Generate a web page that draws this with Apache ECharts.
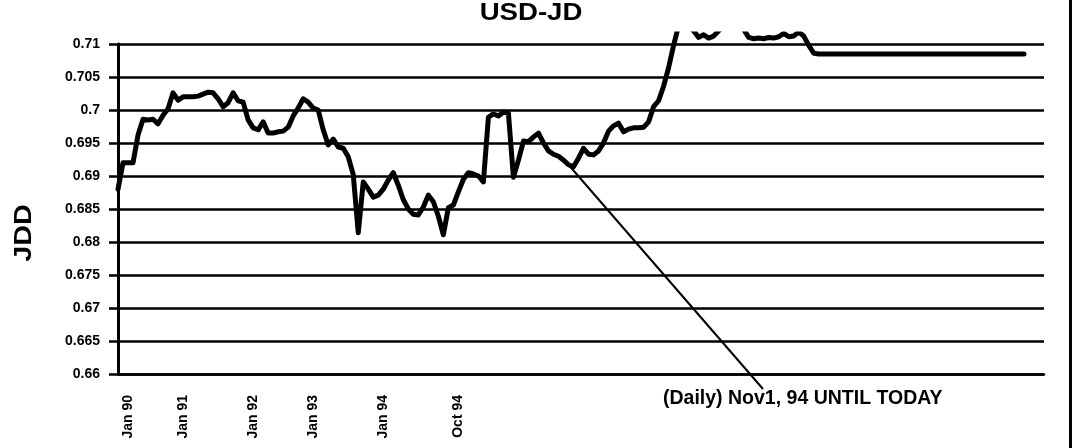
<!DOCTYPE html>
<html><head><meta charset="utf-8">
<script src="https://cdn.jsdelivr.net/npm/echarts@6/dist/echarts.min.js"></script>
<style>html,body{margin:0;padding:0;background:#fff}#c{width:1078px;height:448px}</style>
</head><body><div id="c"></div>
<script>
// ---- data ----
const chartTitle = 'USD-JD';
const yAxisName = 'JDD';
const noteText = '(Daily) Nov1, 94 UNTIL TODAY';
const yMin = 0.66, yMax = 0.71, yStep = 0.005;
const clipTop = 0.7115;             // the series is cut a little above the top gridline
const xTickLabels = ['Jan 90', 'Jan 91', 'Jan 92', 'Jan 93', 'Jan 94', 'Oct 94'];
const xTickIndex = [2, 13, 27, 39, 53, 68];
const periodCount = 186;
const noteIndex = 90;
const rate = [
  0.6880,0.6920,0.6920,0.6920,0.6962,0.6986,0.6985,0.6986,0.6979,0.6992,
  0.7002,0.7026,0.7015,0.7020,0.7020,0.7020,0.7021,0.7024,0.7027,0.7026,
  0.7017,0.7005,0.7011,0.7026,0.7014,0.7012,0.6985,0.6973,0.6970,0.6982,
  0.6965,0.6965,0.6967,0.6968,0.6974,0.6991,0.7003,0.7017,0.7012,0.7003,
  0.7000,0.6970,0.6947,0.6956,0.6944,0.6942,0.6929,0.6902,0.6814,0.6891,
  0.6880,0.6868,0.6871,0.6880,0.6894,0.6905,0.6886,0.6864,0.6850,0.6842,
  0.6841,0.6853,0.6871,0.6861,0.6839,0.6811,0.6852,0.6856,0.6876,0.6895,
  0.6905,0.6903,0.6900,0.6891,0.6989,0.6994,0.6991,0.6997,0.6995,0.6898,
  0.6924,0.6953,0.6952,0.6959,0.6965,0.6950,0.6938,0.6933,0.6930,0.6924,
  0.6917,0.6914,0.6927,0.6942,0.6933,0.6932,0.6938,0.6950,0.6968,0.6976,
  0.6980,0.6967,0.6971,0.6973,0.6973,0.6974,0.6982,0.7005,0.7014,0.7036,
  0.7064,0.7098,0.7128,0.7130,0.7127,0.7120,0.7110,0.7114,0.7109,0.7112,
  0.7120,0.7128,0.7132,0.7130,0.7127,0.7122,0.7110,0.7108,0.7109,0.7108,
  0.7110,0.7109,0.7111,0.7116,0.7111,0.7112,0.7118,0.7112,0.7098,0.7086,
  0.7085,0.7085,0.7085,0.7085,0.7085,0.7085,0.7085,0.7085,0.7085,0.7085,
  0.7085,0.7085,0.7085,0.7085,0.7085,0.7085,0.7085,0.7085,0.7085,0.7085,
  0.7085,0.7085,0.7085,0.7085,0.7085,0.7085,0.7085,0.7085,0.7085,0.7085,
  0.7085,0.7085,0.7085,0.7085,0.7085,0.7085,0.7085,0.7085,0.7085,0.7085,
  0.7085,0.7085
];

// ---- layout ----
const W = 1078, H = 448;
const G = { left: 118, right: 34, top: 44, bottom: 74 };
const plotH = H - G.top - G.bottom;
const top1 = G.top - (clipTop - yMax) / (yMax - yMin) * plotH;
const FONT = 'Liberation Sans, Arial, sans-serif';

const categories = [];
for (let i = 0; i < periodCount; i++) categories.push(String(i));
const labelMap = {};
xTickIndex.forEach((idx, k) => { labelMap[String(idx)] = xTickLabels[k]; });

const chart = echarts.init(document.getElementById('c'), null, { renderer: 'canvas' });
const option = {
  animation: false,
  backgroundColor: '#fff',
  grid: [
    { left: G.left, right: G.right, top: G.top, bottom: G.bottom },
    { left: G.left, right: G.right, top: top1, bottom: G.bottom }
  ],
  xAxis: [
    {
      gridIndex: 0, type: 'category', data: categories, boundaryGap: false,
      axisLine: { show: true, lineStyle: { color: '#000', width: 2.5 } },
      axisTick: { show: false },
      splitLine: { show: false },
      axisLabel: {
        interval: (index) => labelMap.hasOwnProperty(String(index)),
        formatter: (v) => labelMap[v] || '',
        rotate: 90, margin: 21, fontSize: 14, fontWeight: 'bold',
        color: '#000', fontFamily: FONT
      }
    },
    { gridIndex: 1, type: 'category', data: categories, boundaryGap: false, show: false }
  ],
  yAxis: [
    {
      gridIndex: 0, type: 'value', min: yMin, max: yMax, interval: yStep,
      axisLine: { show: true, lineStyle: { color: '#000', width: 3 } },
      axisTick: { show: true, length: 9, lineStyle: { color: '#000', width: 2.5 } },
      splitLine: { show: true, lineStyle: { color: '#000', width: 2.5 } },
      axisLabel: {
        formatter: (v) => String(parseFloat(v.toFixed(3))),
        margin: 18, fontSize: 14, fontWeight: 'bold', color: '#000', fontFamily: FONT
      }
    },
    { gridIndex: 1, type: 'value', min: yMin, max: clipTop, show: false }
  ],
  series: [{
    type: 'line', xAxisIndex: 1, yAxisIndex: 1, data: rate,
    symbol: 'none', showSymbol: false, clip: true, z: 5,
    lineStyle: { color: '#000', width: 5, join: 'round', cap: 'round' }
  }]
};
chart.setOption(option);

const p0 = chart.convertToPixel({ gridIndex: 1 }, [noteIndex, rate[noteIndex]]);
const noteX = 663, noteY = 389;
chart.setOption({
  graphic: [
    { type: 'text', x: 531, y: 13, scaleX: 1.15,
      style: { text: chartTitle, font: 'bold 24px ' + FONT, fill: '#000', textAlign: 'center', textVerticalAlign: 'middle' } },
    { type: 'text', x: 24, y: 233, rotation: Math.PI / 2, scaleX: 1.2,
      style: { text: yAxisName, font: 'bold 24px ' + FONT, fill: '#000', textAlign: 'center', textVerticalAlign: 'middle' } },
    { type: 'text', x: noteX, y: noteY,
      style: { text: noteText, font: 'bold 19.5px ' + FONT, fill: '#000', textAlign: 'left', textVerticalAlign: 'top' } },
    { type: 'line', z: 10,
      shape: { x1: p0[0], y1: p0[1], x2: noteX + 100, y2: noteY },
      style: { stroke: '#000', lineWidth: 2 } },
    { type: 'rect', shape: { x: 1069, y: 0, width: 3, height: H }, style: { fill: '#000' } }
  ]
});
</script>
</body></html>
